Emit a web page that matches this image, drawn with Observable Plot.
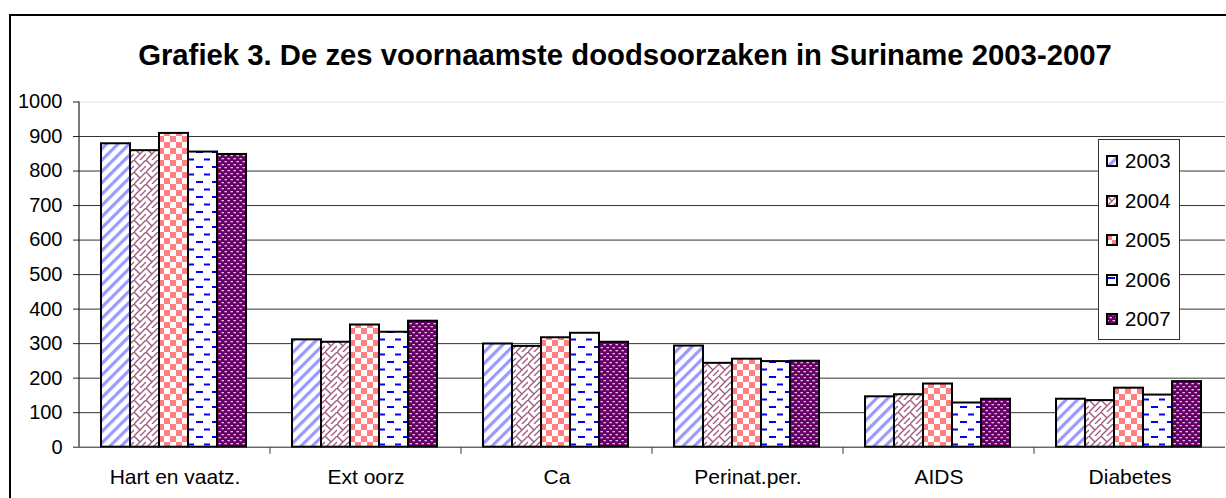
<!DOCTYPE html>
<html><head><meta charset="utf-8">
<script src="https://cdn.jsdelivr.net/npm/d3@7"></script>
<script src="https://cdn.jsdelivr.net/npm/@observablehq/plot@0.6"></script>
<style>
body{margin:0;background:#fff;font-family:Arial,"Liberation Sans",sans-serif;overflow:hidden;}
#wrap{position:relative;width:1226px;height:498px;overflow:hidden;background:#fff;}
#border{position:absolute;left:9px;top:14px;width:1400px;height:700px;border:2px solid #000;box-sizing:border-box;}
#title{position:absolute;left:12px;top:36px;width:1226px;text-align:center;font-weight:bold;font-size:29.3px;line-height:38px;color:#000;}
#chart{position:absolute;left:0;top:88px;}
#legend{position:absolute;left:1098px;top:139px;width:82px;height:201px;border:1px solid #333;background:#fff;box-sizing:border-box;}
.li{position:absolute;left:0;height:24px;display:flex;align-items:center;font-size:20.5px;color:#000;}
.li svg{margin-left:7px;margin-right:7px;}
#defs{position:absolute;left:0;top:0;width:0;height:0;}
</style>
</head><body>
<div id="wrap">
<div id="border"></div>
<div id="title">Grafiek 3. De zes voornaamste doodsoorzaken in Suriname 2003-2007</div>
<div id="chart"></div>
<div id="legend"></div>
</div>
<svg id="defs" width="0" height="0">
<defs>
<pattern id="pat2003" patternUnits="userSpaceOnUse" width="8" height="8" patternTransform="rotate(45)">
<rect width="8" height="8" fill="#fff"/><rect x="0" y="0" width="3.2" height="8" fill="#9999FF"/>
</pattern>
<pattern id="pat2004" patternUnits="userSpaceOnUse" width="12" height="12">
<rect width="12" height="12" fill="#fff"/>
<path d="M-1 13 L13 -1 M0 0 L6 6 M6 12 L12 6" stroke="#A35A80" stroke-width="1.4" fill="none"/>
</pattern>
<pattern id="pat2005" patternUnits="userSpaceOnUse" width="12" height="12">
<rect width="12" height="12" fill="#fff"/>
<rect x="0" y="0" width="6" height="6" fill="#FF8080"/><rect x="6" y="6" width="6" height="6" fill="#FF8080"/>
</pattern>
<pattern id="pat2006" patternUnits="userSpaceOnUse" width="16" height="15">
<rect width="16" height="15" fill="#fff"/>
<rect x="2" y="3" width="7" height="2" fill="#0000FF"/><rect x="10" y="10.5" width="7" height="2" fill="#0000FF"/>
</pattern>
<pattern id="pat2007" patternUnits="userSpaceOnUse" width="6" height="6">
<rect width="6" height="6" fill="#660066"/>
<rect x="0.5" y="1" width="2.4" height="1.3" fill="#E8C8E8"/><rect x="3.5" y="4" width="2.4" height="1.3" fill="#E8C8E8"/>
</pattern>
</defs>
</svg>
<script>
const categories = ["Hart en vaatz.", "Ext oorz", "Ca", "Perinat.per.", "AIDS", "Diabetes"];
const years = ["2003", "2004", "2005", "2006", "2007"];
const v2003 = [879, 311, 299, 293, 146, 139];
const v2004 = [859, 304, 292, 243, 152, 135];
const v2005 = [909, 354, 317, 255, 183, 171];
const v2006 = [855, 333, 330, 248, 128, 151];
const v2007 = [848, 365, 304, 249, 139, 190];
const yTicks = [0, 100, 200, 300, 400, 500, 600, 700, 800, 900, 1000];

const series = {"2003": v2003, "2004": v2004, "2005": v2005, "2006": v2006, "2007": v2007};
const data = [];
categories.forEach((c, i) => years.forEach(y => data.push({cat: c, year: y, value: series[y][i]})));

const plot = Plot.plot({
  width: 1226,
  height: 410,
  marginTop: 13.5,
  marginBottom: 51.3,
  marginLeft: 77,
  marginRight: 0,
  style: {fontFamily: "Arial, 'Liberation Sans', sans-serif", background: "transparent", overflow: "visible"},
  fx: {domain: categories, padding: 0, axis: null, label: null},
  x: {domain: years, paddingInner: 0, paddingOuter: 0.7, align: 0.48, axis: null},
  y: {domain: [0, 1000], axis: null, label: null},
  color: {type: "identity"},
  marks: [
    Plot.gridY(yTicks.filter(t => t > 0 && t < 1000), {stroke: "#333", strokeOpacity: 1, strokeWidth: 1}),
    Plot.ruleY([1000], {stroke: "#e4e4e4", strokeWidth: 1}),
    Plot.barY(data, {fx: "cat", x: "year", y: "value", fill: d => `url(#pat${d.year})`, stroke: "#000", strokeWidth: 2}),
    Plot.ruleY([0], {stroke: "#222", strokeWidth: 1}),
    Plot.axisY({ticks: yTicks, tickFormat: d => String(d), tickSize: 6, tickPadding: 11, fontSize: 20, stroke: "#222", label: null, color: "#000"}),
    Plot.axisFx({anchor: "bottom", tickSize: 0, tickPadding: 22, fontSize: 21, label: null, color: "#000"})
  ]
});
document.getElementById("chart").appendChild(plot);

// axis line and category boundary ticks from the plot's own scales
const svg = d3.select(plot);
const fx = plot.scale("fx"), y = plot.scale("y");
const y0 = y.apply(0), y1 = y.apply(1000);
const x0 = fx.apply(categories[0]);
svg.append("line").attr("x1", x0).attr("x2", x0).attr("y1", y1).attr("y2", y0).attr("stroke", "#222").attr("stroke-width", 1.2);
categories.slice(1).forEach(c => {
  const xb = fx.apply(c);
  svg.append("line").attr("x1", xb).attr("x2", xb).attr("y1", y0).attr("y2", y0 + 7).attr("stroke", "#555").attr("stroke-width", 1.2);
});

// legend
const legend = document.getElementById("legend");
years.forEach((yr, i) => {
  const div = document.createElement("div");
  div.className = "li";
  div.style.top = (9 + i * 39.5) + "px";
  div.innerHTML = `<svg width="12" height="12"><rect x="1" y="1" width="10" height="10" fill="url(#pat${yr})" stroke="#000" stroke-width="2"/></svg><span>${yr}</span>`;
  legend.appendChild(div);
});
</script>
</body></html>
